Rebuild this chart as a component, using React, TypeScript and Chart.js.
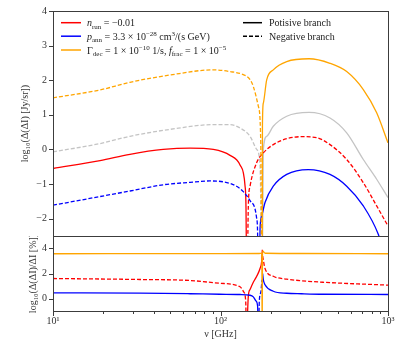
import React, { useEffect, useRef } from 'react';
import { Chart, registerables } from 'chart.js';

Chart.register(...registerables);

const FONT = "'Liberation Serif', 'DejaVu Serif', serif";
const RED = '#ff0000';
const BLUE = '#0000ff';
const ORANGE = '#ffa500';
const GRAY = '#c4c4c4';
const AXIS = '#3c3c3c';

// ---------- tick labels ----------
const yTopTicks = [-2, -1, 0, 1, 2, 3, 4];
const yBotTicks = [0, 2, 4];
const xMajor = [10, 100, 1000];
const xMajorLabels = ['10¹', '10²', '10³'];
const xMinor = [20, 30, 40, 50, 60, 70, 80, 90, 200, 300, 400, 500, 600, 700, 800, 900];

// ---------- top panel: log10(|ΔI|) ----------
const nuRedPos = [10, 19.1, 28.8, 45.5, 65.8, 90.6, 114, 130.8, 140.1, 142, 143.4];
const redPos = [-0.55, -0.32, -0.14, 0.0, 0.04, 0.0, -0.17, -0.45, -1.05, -1.7, -4];
const nuRedNeg = [144.5, 146.6, 150.1, 164.5, 180.2, 206.6, 248.5, 305.3, 375.3, 450.4, 566.8, 712.2, 855.8, 1000];
const redNeg = [-4, -1.63, -1.06, -0.38, -0.1, 0.14, 0.31, 0.37, 0.34, 0.14, -0.29, -0.96, -1.63, -2.21];

const nuBlueNeg = [10, 19.1, 28.8, 45.5, 65.8, 86.6, 114, 130.8, 136.8, 150.1, 164.5, 166.5, 168.2];
const blueNeg = [-1.61, -1.36, -1.2, -1.02, -0.95, -0.91, -0.98, -1.13, -1.22, -1.48, -2.0, -2.4, -4];
const nuBluePos = [170.5, 172.2, 176.2, 184.4, 206.6, 248.5, 334.4, 450.4, 566.8, 712.2, 875, 920];
const bluePos = [-4, -2.3, -1.92, -1.53, -1.06, -0.72, -0.58, -0.72, -1.06, -1.63, -2.45, -2.8];

const nuOrangeNeg = [10, 19.1, 28.8, 49.9, 90.6, 114, 136.8, 150.1, 157, 168.2, 173.8, 176.2];
const orangeNeg = [1.49, 1.72, 1.94, 2.15, 2.3, 2.25, 2.16, 2.02, 1.82, 1.25, 0.29, -4];
const nuOrangePos = [177.4, 178.0, 180.2, 188.7, 206.6, 248.5, 337.6, 450.4, 566.8, 712.2, 855.8, 1000];
const orangePos = [-4, 0.7, 1.34, 2.01, 2.3, 2.54, 2.62, 2.49, 2.25, 1.73, 1.06, 0.19];

const nuGrayNeg = [10, 19.1, 28.8, 49.9, 92.7, 114, 130.8, 150.1, 164.5, 172.2, 176.5];
const grayNeg = [-0.07, 0.17, 0.38, 0.58, 0.72, 0.72, 0.62, 0.38, 0.0, -0.48, -4];
const nuGrayPos = [177.7, 180.2, 188.7, 206.6, 248.5, 337.6, 450.4, 566.8, 712.2, 855.8, 1000];
const grayPos = [-4, 0.0, 0.38, 0.67, 0.96, 1.07, 0.91, 0.48, -0.29, -0.86, -1.39];

// ---------- bottom panel: log10(|Δ(ΔI)/ΔI| [%]) ----------
const nuOrangeRel = [10, 100, 170, 176.5, 177.3, 178.2, 185, 300, 1000];
const orangeRel = [3.58, 3.59, 3.6, 3.62, -3, 3.8, 3.62, 3.6, 3.58];

const nuRedRelA = [10, 33, 65.8, 98.9, 130.8, 138, 141.5, 142.5];
const redRelA = [1.6, 1.52, 1.44, 1.22, 0.94, 0.5, -0.3, -3];
const nuRedRelB = [143.5, 146.6, 150.1, 157, 164.5, 172.2, 176.2, 177.7];
const redRelB = [-3, 0.2, 0.72, 1.3, 1.78, 2.4, 3.0, 3.9];
const nuRedRelC = [178.5, 184.4, 206.6, 248.5, 305.3, 409, 1000];
const redRelC = [3.4, 2.4, 1.78, 1.55, 1.42, 1.3, 1.07];

const nuBlueRelA = [10, 33, 65.8, 98.9, 130.8, 150.1, 157, 163, 166.5, 168];
const blueRelA = [0.45, 0.43, 0.38, 0.34, 0.32, 0.26, 0.13, -0.2, -0.6, -3];
const nuBlueRelB = [168.8, 170.5, 174, 177];
const blueRelB = [-3, -0.2, 0.5, 1.5];
const nuBlueRelC = [178.5, 180.2, 184.4, 206.6, 248.5, 305.3, 409, 1000];
const blueRelC = [2.0, 1.5, 1.1, 0.58, 0.42, 0.38, 0.34, 0.32];

// ---------- legend text ----------
type Seg = [string, 'n' | 'i' | 'b' | 'p'];
const legendModels: { color: string; segs: Seg[] }[] = [
  { color: RED, segs: [['n', 'i'], ['run', 'b'], [' = −0.01', 'n']] },
  { color: BLUE, segs: [['p', 'i'], ['ann', 'b'], [' = 3.3 × 10', 'n'], ['−28', 'p'], [' cm', 'n'], ['3', 'p'], ['/(s GeV)', 'n']] },
  { color: ORANGE, segs: [['Γ', 'n'], ['dec', 'b'], [' = 1 × 10', 'n'], ['−10', 'p'], [' 1/s, ', 'n'], ['f', 'i'], ['frac', 'b'], [' = 1 × 10', 'n'], ['−5', 'p']] },
];
const legendBranches: { dashed: boolean; text: string }[] = [
  { dashed: false, text: 'Potisive branch' },
  { dashed: true, text: 'Negative branch' },
];

const pts = (xs: number[], ys: number[]) => xs.map((x, i) => ({ x, y: ys[i] }));

function line(label: string, xs: number[], ys: number[], color: string, dashed: boolean) {
  return {
    label,
    data: pts(xs, ys),
    borderColor: color,
    backgroundColor: color,
    borderWidth: 1.3,
    borderDash: dashed ? [4, 2] : [],
    pointRadius: 0,
    fill: false,
    cubicInterpolationMode: 'monotone' as const,
  };
}

const fmtY = (v: any) => (Number(v) < 0 ? '−' + Math.abs(Number(v)) : String(v));

function drawRich(ctx: CanvasRenderingContext2D, x: number, y: number, segs: Seg[], size: number) {
  let cx = x;
  for (const [t, k] of segs) {
    let dy = 0;
    let font = `${size}px ${FONT}`;
    if (k === 'i') font = `italic ${size}px ${FONT}`;
    if (k === 'b') { font = `${size * 0.7}px ${FONT}`; dy = 2.5; }
    if (k === 'p') { font = `${size * 0.7}px ${FONT}`; dy = -4; }
    ctx.font = font;
    ctx.fillText(t, cx, y + dy);
    cx += ctx.measureText(t).width;
  }
}

const noPad = (s: any) => {
  s.paddingTop = 0;
  s.paddingBottom = 0;
  s.paddingLeft = 0;
  s.paddingRight = 0;
};

const framePlugin = {
  id: 'frame',
  afterDraw(chart: any) {
    const { ctx, chartArea: a, scales } = chart;
    const l = Math.round(a.left), r = Math.round(a.right), t = Math.round(a.top), b = Math.round(a.bottom);
    ctx.save();
    ctx.strokeStyle = AXIS;
    ctx.lineWidth = 1;
    ctx.setLineDash([]);
    ctx.strokeRect(l + 0.5, t + 0.5, r - l, b - t);
    ctx.beginPath();
    for (const tk of scales.y.ticks) {
      const py = Math.round(scales.y.getPixelForValue(tk.value)) + 0.5;
      ctx.moveTo(l - 4, py);
      ctx.lineTo(l, py);
    }
    if (scales.x.options.display) {
      for (const tk of scales.x.ticks) {
        const major = xMajor.includes(tk.value);
        const px = Math.round(scales.x.getPixelForValue(tk.value)) + 0.5;
        ctx.moveTo(px, b + 1);
        ctx.lineTo(px, b + 1 + (major ? 4 : 2));
      }
    }
    ctx.stroke();
    ctx.restore();
  },
};

const legendPlugin = {
  id: 'richLegend',
  afterDraw(chart: any) {
    const { ctx } = chart;
    ctx.save();
    ctx.fillStyle = '#222';
    ctx.textBaseline = 'alphabetic';
    ctx.textAlign = 'left';
    const rowY = [22.7, 36.2, 50];
    legendModels.forEach((m, i) => {
      ctx.strokeStyle = m.color;
      ctx.lineWidth = 1.5;
      ctx.setLineDash([]);
      ctx.beginPath();
      ctx.moveTo(61, rowY[i]);
      ctx.lineTo(81, rowY[i]);
      ctx.stroke();
      drawRich(ctx, 87, rowY[i] + 3.5, m.segs, 10);
    });
    legendBranches.forEach((b, i) => {
      ctx.strokeStyle = '#000';
      ctx.lineWidth = 1.5;
      ctx.setLineDash(b.dashed ? [4, 2] : []);
      ctx.beginPath();
      ctx.moveTo(243, rowY[i]);
      ctx.lineTo(262, rowY[i]);
      ctx.stroke();
      ctx.setLineDash([]);
      ctx.font = `10px ${FONT}`;
      ctx.fillText(b.text, 269, rowY[i] + 3.5);
    });
    ctx.restore();
  },
};

const tickFont = { family: FONT, size: 10 };

export default function App() {
  const topRef = useRef<HTMLCanvasElement>(null);
  const botRef = useRef<HTMLCanvasElement>(null);

  useEffect(() => {
    const top = new Chart(topRef.current!, {
      type: 'line',
      data: {
        datasets: [
          line('orange +', nuOrangePos, orangePos, ORANGE, false),
          line('orange −', nuOrangeNeg, orangeNeg, ORANGE, true),
          line('blue +', nuBluePos, bluePos, BLUE, false),
          line('blue −', nuBlueNeg, blueNeg, BLUE, true),
          line('red +', nuRedPos, redPos, RED, false),
          line('red −', nuRedNeg, redNeg, RED, true),
          line('ref +', nuGrayPos, grayPos, GRAY, false),
          line('ref −', nuGrayNeg, grayNeg, GRAY, true),
        ],
      },
      options: {
        responsive: false,
        animation: false,
        devicePixelRatio: 1,
        layout: { padding: { left: 0, right: 21, top: 11, bottom: 1 } },
        plugins: { legend: { display: false }, tooltip: { enabled: false } },
        scales: {
          x: { type: 'logarithmic', min: 10, max: 1000, display: false, afterFit: noPad },
          y: {
            type: 'linear',
            min: -2.5,
            max: 4,
            afterFit: (s: any) => { s.width = 53; noPad(s); },
            afterBuildTicks: (s: any) => { s.ticks = yTopTicks.map((v) => ({ value: v })); },
            grid: { display: false, drawTicks: false },
            border: { display: false },
            ticks: { padding: 6, color: '#333', font: tickFont, callback: fmtY },
            title: {
              display: true,
              text: 'log₁₀(Δ(ΔI) [Jy/sr])',
              color: '#333',
              font: tickFont,
              padding: { top: 19, bottom: 0 },
            },
          },
        },
      },
      plugins: [framePlugin, legendPlugin],
    } as any);

    const bot = new Chart(botRef.current!, {
      type: 'line',
      data: {
        datasets: [
          line('orange', nuOrangeRel, orangeRel, ORANGE, false),
          line('blue a', nuBlueRelA, blueRelA, BLUE, false),
          line('blue b', nuBlueRelB, blueRelB, BLUE, true),
          line('blue c', nuBlueRelC, blueRelC, BLUE, false),
          line('red a', nuRedRelA, redRelA, RED, true),
          line('red b', nuRedRelB, redRelB, RED, false),
          line('red c', nuRedRelC, redRelC, RED, true),
        ],
      },
      options: {
        responsive: false,
        animation: false,
        devicePixelRatio: 1,
        layout: { padding: { left: 0, right: 21, top: 0, bottom: 0 } },
        plugins: { legend: { display: false }, tooltip: { enabled: false } },
        scales: {
          x: {
            type: 'logarithmic',
            min: 10,
            max: 1000,
            afterBuildTicks: (s: any) => {
              s.ticks = [...xMajor, ...xMinor].sort((a, b) => a - b).map((v) => ({ value: v }));
            },
            afterFit: (s: any) => { s.height = 47; noPad(s); },
            grid: { display: false, drawTicks: false },
            border: { display: false },
            ticks: {
              autoSkip: false,
              maxRotation: 0,
              padding: 4,
              color: '#333',
              font: tickFont,
              callback: (v: any) => {
                const i = xMajor.indexOf(Number(v));
                return i >= 0 ? xMajorLabels[i] : '';
              },
            },
            title: {
              display: true,
              text: 'ν [GHz]',
              color: '#333',
              font: tickFont,
              padding: { top: 0, bottom: 18 },
            },
          },
          y: {
            type: 'linear',
            min: -1,
            max: 5,
            afterFit: (s: any) => { s.width = 53; noPad(s); },
            afterBuildTicks: (s: any) => { s.ticks = yBotTicks.map((v) => ({ value: v })); },
            grid: { display: false, drawTicks: false },
            border: { display: false },
            ticks: { padding: 6, color: '#333', font: tickFont, callback: fmtY },
            title: {
              display: true,
              text: 'log₁₀(Δ(ΔI)/ΔI [%])',
              color: '#333',
              font: tickFont,
              padding: { top: 27, bottom: 0 },
            },
          },
        },
      },
      plugins: [framePlugin],
    } as any);

    return () => {
      top.destroy();
      bot.destroy();
    };
  }, []);

  return (
    <div style={{ position: 'fixed', left: 0, top: 0, width: 409, height: 358, background: '#fff' }}>
      <canvas ref={topRef} width={409} height={237} style={{ position: 'absolute', left: 0, top: 0 }} />
      <canvas ref={botRef} width={409} height={122} style={{ position: 'absolute', left: 0, top: 236 }} />
    </div>
  );
}
